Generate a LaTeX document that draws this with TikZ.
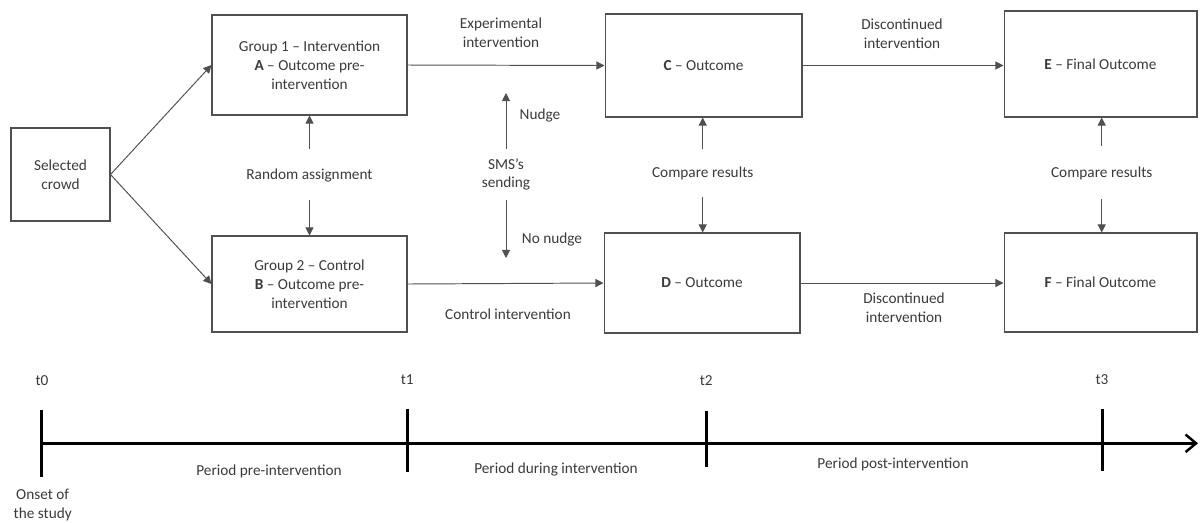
\documentclass[tikz,border=0pt]{standalone}
\usepackage{fontspec}
\setmainfont{Carlito}
\usetikzlibrary{arrows.meta}
\definecolor{ink}{HTML}{3A3A3A}
\definecolor{frame}{HTML}{505050}
\begin{document}
\begin{tikzpicture}[x=0.02cm,y=-0.02cm,
  font=\fontsize{8.7pt}{10.7pt}\selectfont,
  every node/.style={text=ink},
  box/.style={draw=frame,line width=0.6pt,align=center,inner sep=0pt},
  lbl/.style={align=center,inner sep=0pt},
  flow/.style={draw=frame,line width=0.55pt,-{Triangle[length=4.6pt,width=4.6pt]}},
  axis/.style={draw=black,line width=1.4pt},
  tick/.style={draw=black,line width=1.7pt}]
\useasboundingbox (0,0) rectangle (1200,522);

% boxes
\node[box,minimum width=1.98cm,minimum height=1.86cm] (crowd) at (60.5,174.5) {Selected\\crowd};
\node[box,minimum width=3.9cm,minimum height=2.0cm] (A) at (309.5,65) {Group 1 -- Intervention\\\textbf{A} -- Outcome pre-\\intervention};
\node[box,minimum width=3.9cm,minimum height=1.92cm] (B) at (309.5,284) {Group 2 -- Control\\\textbf{B} -- Outcome pre-\\intervention};
\node[box,minimum width=3.94cm,minimum height=2.06cm] (C) at (703.5,65.5) {\textbf{C} -- Outcome};
\node[box,minimum width=3.92cm,minimum height=2.0cm] (D) at (702,283) {\textbf{D} -- Outcome};
\node[box,minimum width=3.86cm,minimum height=2.12cm] (E) at (1100.5,64) {\textbf{E} -- Final Outcome};
\node[box,minimum width=3.86cm,minimum height=1.98cm] (F) at (1100.5,282.5) {\textbf{F} -- Final Outcome};

% labels between boxes
\node[lbl] (ra) at (309.5,175) {Random assignment};
\node[lbl] (sms) at (506,174.5) {SMS’s\\sending};
\node[lbl] (nudge) at (540,115) {Nudge};
\node[lbl] (nonudge) at (552,239) {No nudge};
\node[lbl] (cmp1) at (702.7,173) {Compare results};
\node[lbl] (cmp2) at (1101.7,173) {Compare results};
\node[lbl] (exp) at (501,33) {Experimental\\intervention};
\node[lbl] (ctl) at (508,314) {Control intervention};
\node[lbl] (disc1) at (902,33.5) {Discontinued\\intervention};
\node[lbl] (disc2) at (904,307.5) {Discontinued\\intervention};

% arrow end points beside the labels
\coordinate (ra-up) at (309.5,149);
\coordinate (ra-dn) at (309.5,200);
\coordinate (sms-up) at (506,149);
\coordinate (sms-top) at (506,93);
\coordinate (sms-dn) at (506,200);
\coordinate (sms-bot) at (506,258);
\coordinate (cmp1-up) at (702.7,149);
\coordinate (cmp1-dn) at (702.7,197);
\coordinate (cmp2-up) at (1101.7,146);
\coordinate (cmp2-dn) at (1101.7,199);

% connectors
\draw[flow] (crowd.east) -- (A.west);
\draw[flow] (crowd.east) -- (B.west);
\draw[flow] (A.east) -- (C.west);
\draw[flow] (B.east) -- (D.west);
\draw[flow] (C.east) -- (C.east -| E.west);
\draw[flow] (D.east) -- (D.east -| F.west);
\draw[flow] (ra-up) -- (ra-up |- A.south);
\draw[flow] (ra-dn) -- (ra-dn |- B.north);
\draw[flow] (sms-up) -- (sms-top);
\draw[flow] (sms-dn) -- (sms-bot);
\draw[flow] (cmp1-up) -- (cmp1-up |- C.south);
\draw[flow] (cmp1-dn) -- (cmp1-dn |- D.north);
\draw[flow] (cmp2-up) -- (cmp2-up |- E.south);
\draw[flow] (cmp2-dn) -- (cmp2-dn |- F.north);

% timeline
\coordinate (ax0) at (41.7,443.3);
\coordinate (ax1) at (1198,443.3);
\draw[axis,-{Straight Barb[length=6pt,width=10pt,line width=1.4pt]}] (ax0) -- (ax1);
\draw[tick] (41.7,410) -- (41.7,477);
\draw[tick] (407.3,409) -- (407.3,472);
\draw[tick] (706.3,410.7) -- (706.3,466.7);
\draw[tick] (1102,408.7) -- (1102,470.7);
\node[lbl] (t0) at (42,381) {t0};
\node[lbl] (t1) at (407.3,380) {t1};
\node[lbl] (t2) at (706.3,381) {t2};
\node[lbl] (t3) at (1102,380) {t3};
\node[lbl] (onset) at (42.7,505) {Onset of\\the study};
\node[lbl] (p1) at (269,471.7) {Period pre-intervention};
\node[lbl] (p2) at (556,469) {Period during intervention};
\node[lbl] (p3) at (893,464.3) {Period post-intervention};
\end{tikzpicture}
\end{document}
